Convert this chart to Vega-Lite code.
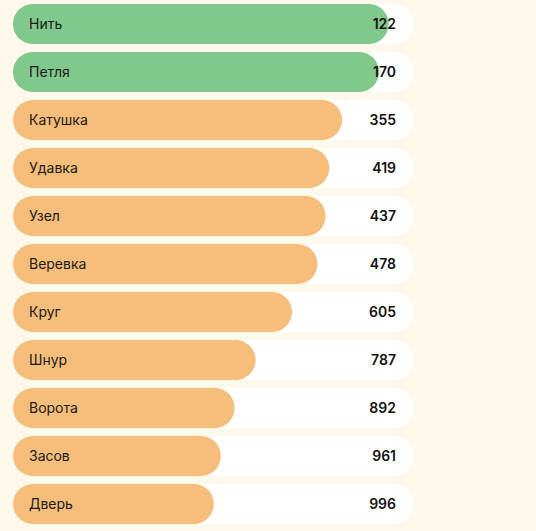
{
  "$schema": "https://vega.github.io/schema/vega-lite/v6.json",
  "width": 400,
  "height": {"step": 48},
  "padding": {"left": 13, "top": 0, "right": 123, "bottom": 3},
  "background": "#FFF9EC",
  "config": {"view": {"stroke": null}, "font": "Inter"},
  "data": {"values": [
    {"name": "Нить", "value": 122, "group": "top"},
    {"name": "Петля", "value": 170, "group": "top"},
    {"name": "Катушка", "value": 355, "group": "other"},
    {"name": "Удавка", "value": 419, "group": "other"},
    {"name": "Узел", "value": 437, "group": "other"},
    {"name": "Веревка", "value": 478, "group": "other"},
    {"name": "Круг", "value": 605, "group": "other"},
    {"name": "Шнур", "value": 787, "group": "other"},
    {"name": "Ворота", "value": 892, "group": "other"},
    {"name": "Засов", "value": 961, "group": "other"},
    {"name": "Дверь", "value": 996, "group": "other"}
  ]},
  "encoding": {
    "y": {"field": "name", "type": "nominal", "sort": {"field": "value", "order": "ascending"}, "axis": null,
          "scale": {"paddingInner": 0.1667, "paddingOuter": 0.0833}}
  },
  "layer": [
    {
      "mark": {"type": "bar", "color": "#FFFFFF", "cornerRadius": 20},
      "encoding": {
        "x": {"datum": 0, "type": "quantitative", "scale": {"domain": [2000, 0]}, "axis": null},
        "x2": {"datum": 2000, "type": "quantitative"}
      }
    },
    {
      "mark": {"type": "bar", "cornerRadius": 20},
      "encoding": {
        "x": {"field": "value", "type": "quantitative", "stack": null},
        "x2": {"datum": 2000, "type": "quantitative"},
        "color": {"field": "group", "type": "nominal", "scale": {"domain": ["top", "other"], "range": ["#80C88C", "#F6BE7A"]}, "legend": null}
      }
    },
    {
      "mark": {"type": "text", "align": "left", "dx": 16, "dy": 1, "fontSize": 14, "color": "#1A1A1A"},
      "encoding": {
        "x": {"datum": 2000, "type": "quantitative"},
        "text": {"field": "name"}
      }
    },
    {
      "mark": {"type": "text", "align": "right", "dx": -17, "dy": 1, "fontSize": 14, "fontWeight": 600, "color": "#111111"},
      "encoding": {
        "x": {"datum": 0, "type": "quantitative"},
        "text": {"field": "value"}
      }
    }
  ]
}
